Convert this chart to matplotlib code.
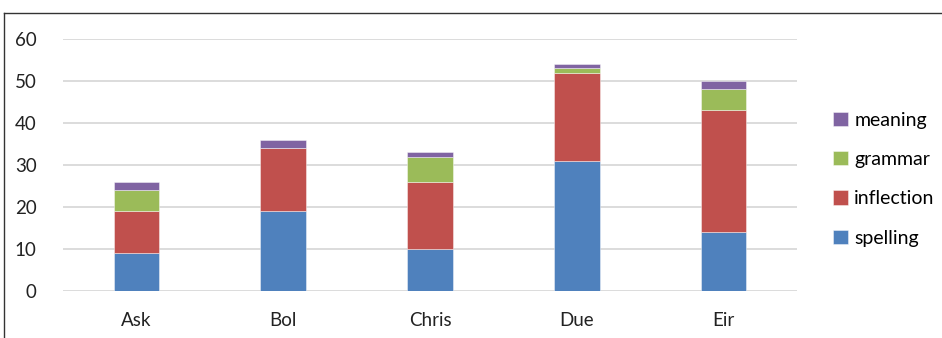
import numpy as np
import matplotlib.pyplot as plt
from matplotlib.lines import Line2D

plt.rcParams['font.family'] = ['Lato', 'DejaVu Sans']

names = ['Ask', 'Bol', 'Chris', 'Due', 'Eir']
spelling = [9, 19, 10, 31, 14]
inflection = [10, 15, 16, 21, 29]
grammar = [5, 0, 6, 1, 5]
meaning = [2, 2, 1, 1, 2]

series = [('spelling', spelling, '#4F81BD'),
          ('inflection', inflection, '#C0504D'),
          ('grammar', grammar, '#9BBB59'),
          ('meaning', meaning, '#8064A2')]

fig = plt.figure(figsize=(9.42, 3.38), dpi=100)
ax = fig.add_axes([63/942, 47/338, (797-63)/942, (291-39)/338])

x = np.arange(len(names))
bottom = np.zeros(len(names))
handles = []
for label, vals, col in series:
    b = ax.bar(x, vals, 0.31, bottom=bottom, color=col, label=label,
               edgecolor=(1, 1, 1, 0.5), linewidth=0.6, zorder=3)
    handles.append(b)
    bottom += np.array(vals)

ax.set_xlim(-0.5, len(names) - 0.5)
ax.set_ylim(0, 60)
ax.set_yticks(range(0, 61, 10))
ax.set_xticks(x)
ax.set_xticklabels(names)
ax.yaxis.grid(True, color='#D9D9D9', linewidth=1.3, zorder=0)
for s in ax.spines.values():
    s.set_visible(False)
ax.tick_params(axis='both', length=0, labelsize=13.5, colors='#222222')
ax.tick_params(axis='y', pad=19)
ax.tick_params(axis='x', pad=15)

ax.legend(handles[::-1], [s[0] for s in series][::-1],
          loc='center left', bbox_to_anchor=(833/942, 0.47),
          bbox_transform=fig.transFigure, frameon=False,
          fontsize=14, handlelength=0.75, handleheight=0.75,
          handletextpad=0.35, labelspacing=1.15, borderaxespad=0,
          borderpad=0)

# outer chart border
fig.add_artist(Line2D([4/942, 1], [1 - 13/338, 1 - 13/338],
                      transform=fig.transFigure, color='#333333', lw=1))
fig.add_artist(Line2D([4/942, 4/942], [0, 1 - 13/338],
                      transform=fig.transFigure, color='#333333', lw=1))

fig.savefig('out.png', dpi=100)
